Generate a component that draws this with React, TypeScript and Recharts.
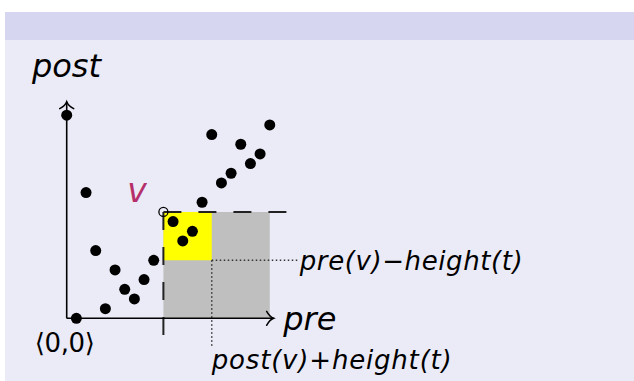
import React from 'react';
import {
  ScatterChart,
  Scatter,
  XAxis,
  YAxis,
  ReferenceArea,
  ReferenceLine,
  ReferenceDot,
} from 'recharts';

// Nodes of the tree, placed by their pre-order and post-order ranks.
const preRanks = [0, 1, 2, 3, 4, 5, 6, 7, 8, 9, 11, 12, 13, 14, 15, 16, 17, 18, 19, 20, 21];
const postRanks = [21, 0, 13, 7, 1, 5, 3, 2, 4, 6, 10, 8, 9, 12, 19, 14, 15, 18, 16, 17, 20];

// The context node v and the height of the tree.
const contextNode = { pre: 10, post: 11 };
const treeHeight = 5;
const maxPre = 21;

// Texts
const xAxisTitle = 'pre';
const yAxisTitle = 'post';
const originText = '\u27E80,0\u27E9';
const nodeText = 'v';
const lowerBoundText = 'pre(v)\u2212height(t)';
const rightBoundText = 'post(v)+height(t)';

const nodes = preRanks.map((pre, i) => ({ pre, post: postRanks[i] }));

const W = 634;
const H = 381;
// One rank step in pixels, and where rank (0,0) sits in the chart.
const STEP = 9.67;
const ORIGIN_X = 66.7;
const ORIGIN_Y = 318.3;
const xDomain = [-ORIGIN_X / STEP, (W - ORIGIN_X) / STEP];
const yDomain = [(ORIGIN_Y - H) / STEP, ORIGIN_Y / STEP];

const FONT = '"DejaVu Sans", sans-serif';

const ArrowAxis = (props: any) => {
  const { x1, y1, x2, y2 } = props;
  const dx = x2 - x1;
  const dy = y2 - y1;
  const len = Math.hypot(dx, dy) || 1;
  const ux = dx / len;
  const uy = dy / len;
  const nx = -uy;
  const ny = ux;
  const back = 7;
  const half = 7;
  const bx = x2 - ux * back;
  const by = y2 - uy * back;
  const cx = x2 - ux * back * 0.55;
  const cy = y2 - uy * back * 0.55;
  const d =
    `M ${bx + nx * half} ${by + ny * half} ` +
    `Q ${cx + nx * half * 0.2} ${cy + ny * half * 0.2} ${x2} ${y2} ` +
    `Q ${cx - nx * half * 0.2} ${cy - ny * half * 0.2} ${bx - nx * half} ${by - ny * half}`;
  return (
    <g>
      <line x1={x1} y1={y1} x2={x2} y2={y2} stroke="#000" strokeWidth={1.6} />
      <path d={d} fill="none" stroke="#000" strokeWidth={1.5} strokeLinecap="round" />
    </g>
  );
};

const textShape =
  (text: string, size: number, opts: { italic?: boolean; color?: string; length?: number } = {}) =>
  (p: any) => (
    <text
      x={p.cx}
      y={p.cy}
      fontFamily={FONT}
      fontSize={size}
      fontStyle={opts.italic === false ? 'normal' : 'italic'}
      fill={opts.color || '#000'}
      textAnchor="start"
      {...(opts.length ? { textLength: opts.length, lengthAdjust: 'spacing' } : {})}
    >
      {text}
    </text>
  );

const NodeDot = (p: any) => <circle cx={p.cx} cy={p.cy} r={5.5} fill="#000" />;
const HollowDot = (p: any) => (
  <circle cx={p.cx} cy={p.cy} r={4.5} fill="none" stroke="#000" strokeWidth={1.3} />
);

export default function App() {
  const windowRight = contextNode.pre + treeHeight;
  const windowBottom = contextNode.post - treeHeight;
  return (
    <div
      style={{
        position: 'absolute',
        left: 0,
        top: 0,
        width: W,
        height: H,
        background: '#ffffff',
        overflow: 'hidden',
      }}
    >
      <div style={{ position: 'absolute', left: 5, top: 12, right: 0, height: 28, background: '#d6d6f0' }} />
      <div style={{ position: 'absolute', left: 5, top: 40, right: 0, bottom: 0, background: '#ebebf7' }} />
      <div style={{ position: 'absolute', left: 0, top: 0 }}>
        <ScatterChart width={W} height={H} margin={{ top: 0, right: 0, bottom: 0, left: 0 }}>
          <XAxis type="number" dataKey="pre" domain={xDomain} allowDataOverflow hide />
          <YAxis type="number" dataKey="post" domain={yDomain} allowDataOverflow hide />

          {/* descendants window and following region */}
          <ReferenceArea
            x1={contextNode.pre}
            x2={maxPre}
            y1={0}
            y2={contextNode.post}
            fill="#bfbfbf"
            fillOpacity={1}
            stroke="none"
          />
          <ReferenceArea
            x1={contextNode.pre}
            x2={windowRight}
            y1={windowBottom}
            y2={contextNode.post}
            fill="#ffff00"
            fillOpacity={1}
            stroke="none"
          />

          {/* bounds */}
          <ReferenceLine
            segment={[
              { x: windowRight, y: windowBottom },
              { x: 23.9, y: windowBottom },
            ]}
            stroke="#333"
            strokeWidth={1.5}
            strokeDasharray="1.5 2.5"
          />
          <ReferenceLine
            segment={[
              { x: windowRight, y: windowBottom },
              { x: windowRight, y: -3.05 },
            ]}
            stroke="#333"
            strokeWidth={1.5}
            strokeDasharray="1.5 2.5"
          />
          <ReferenceLine
            segment={[
              { x: contextNode.pre, y: contextNode.post },
              { x: 23, y: contextNode.post },
            ]}
            stroke="#222"
            strokeWidth={2}
            strokeDasharray="18 17"
          />
          <ReferenceLine
            segment={[
              { x: contextNode.pre, y: contextNode.post },
              { x: contextNode.pre, y: -2.2 },
            ]}
            stroke="#222"
            strokeWidth={2}
            strokeDasharray="18 17"
          />

          {/* axes */}
          <ReferenceLine
            segment={[
              { x: 0, y: 0 },
              { x: 21.4, y: 0 },
            ]}
            shape={ArrowAxis}
          />
          <ReferenceLine
            segment={[
              { x: 0, y: 0 },
              { x: 0, y: 22.4 },
            ]}
            shape={ArrowAxis}
          />

          <Scatter data={nodes} shape={NodeDot} isAnimationActive={false} />
          <ReferenceDot x={contextNode.pre} y={contextNode.post} shape={HollowDot} />

          {/* labels */}
          <ReferenceDot x={-3.6} y={25.0} shape={textShape(yAxisTitle, 32)} />
          <ReferenceDot x={22.4} y={-1.2} shape={textShape(xAxisTitle, 32)} />
          <ReferenceDot x={6.25} y={12.0} shape={textShape(nodeText, 33, { color: '#b5306a' })} />
          <ReferenceDot x={24.1} y={5.0} shape={textShape(lowerBoundText, 26, { length: 223 })} />
          <ReferenceDot x={15.0} y={-5.2} shape={textShape(rightBoundText, 26, { length: 240 })} />
          <ReferenceDot x={-3.3} y={-3.5} shape={textShape(originText, 26, { italic: false, length: 60 })} />
        </ScatterChart>
      </div>
    </div>
  );
}
